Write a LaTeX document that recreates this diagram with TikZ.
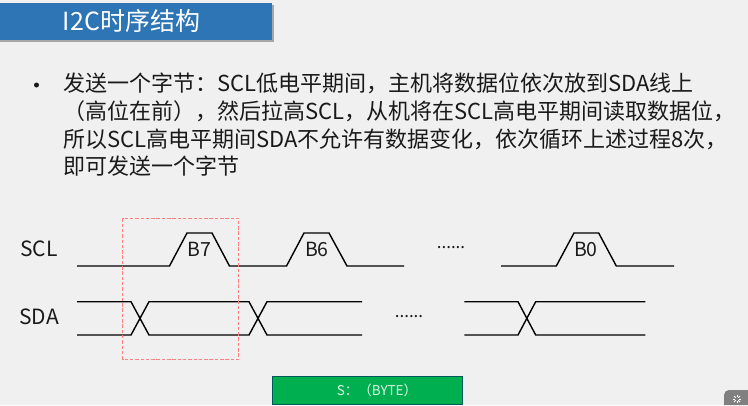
\documentclass[tikz,border=0pt]{standalone}
\usepackage{fontspec}
\setmainfont{Noto Sans CJK SC}
\definecolor{bgc}{HTML}{F0F0F0}
\definecolor{titleblue}{HTML}{2E75B6}
\definecolor{greenbox}{HTML}{00B050}
\definecolor{ink}{HTML}{1A1A1A}
\tikzset{
  wave/.style={line width=1.4pt,black,line join=miter},
  bodyline/.style={anchor=base west,inner sep=0pt,text=ink,font=\fontsize{22}{24}\selectfont},
  siglabel/.style={inner sep=0pt,text=ink,font=\fontsize{21}{24}\selectfont},
  bitlabel/.style={inner sep=0pt,text=ink,font=\fontsize{19.5}{22}\selectfont},
  dotlabel/.style={inner sep=0pt,text=ink,font=\fontsize{17}{20}\selectfont}
}
\begin{document}
\begin{tikzpicture}[x=1pt,y=-1pt]
\useasboundingbox (0,0) rectangle (748,405);
\fill[bgc] (0,0) rectangle (748,405);
% title
\fill[black!35] (0,5) rectangle (273.5,41.5);
\node[fill=titleblue,minimum width=272pt,minimum height=37pt,inner sep=0pt,anchor=north west] (title) at (0,3) {};
\node[inner sep=0pt,text=white,font=\fontsize{25}{27}\selectfont] (titletext) at (131.5,21) {I2C时序结构};
% body
\node[anchor=center,fill=ink,circle,minimum size=5pt,inner sep=0pt] (bullet) at (36.5,85) {};
\node[bodyline] (l1) at (63,91.5) {发送一个字节：SCL低电平期间，主机将数据位依次放到SDA线上};
\node[bodyline] (l2) at (63,119.5) {（高位在前），然后拉高SCL，从机将在SCL高电平期间读取数据位，};
\node[bodyline] (l3) at (63,147) {所以SCL高电平期间SDA不允许有数据变化，依次循环上述过程8次，};
\node[bodyline] (l4) at (63,174.5) {即可发送一个字节};
% labels
\node[siglabel] (scl) at (39,249) {SCL};
\node[siglabel] (sda) at (39,317) {SDA};
\node[bitlabel] (b7) at (199.5,249) {B7};
\node[bitlabel] (b6) at (317,249) {B6};
\node[bitlabel] (b0) at (586,249) {B0};
\node[dotlabel] (d1) at (451,248) {......};
\node[dotlabel] (d2) at (409,317) {......};
% SCL
\draw[wave] (77,266) -- (169.5,266) -- (187,233) -- (212,233) -- (229.5,266) -- (286.5,266) -- (304,233) -- (329,233) -- (347,266) -- (404,266);
\draw[wave] (501,266) -- (556.3,266) -- (574,233) -- (598.7,233) -- (616.3,266) -- (674,266);
% SDA
\draw[wave] (77,301.7) -- (131,301.7) -- (149,335) -- (249,335) -- (267,301.7) -- (362,301.7);
\draw[wave] (77,335) -- (131,335) -- (149,301.7) -- (249,301.7) -- (267,335) -- (362,335);
\draw[wave] (464.3,301.7) -- (518,301.7) -- (535.7,335) -- (645.3,335);
\draw[wave] (464.3,335) -- (518,335) -- (535.7,301.7) -- (645.3,301.7);
% dashed frame
\draw[draw=red!50!white,line width=0.8pt,dash pattern=on 3.5pt off 1.8pt] (122.5,218.3) rectangle (238.7,359.3);
% green box
\node[draw=teal!70!black,line width=0.6pt,fill=greenbox,minimum width=190pt,minimum height=28pt,inner sep=0pt,anchor=north west] (gbox) at (271.7,376.2) {};
\node[inner sep=0pt,text=white!88!greenbox,font=\fontsize{13.5}{15}\selectfont] (gtext) at (377,390) {S：（BYTE）};
% corner button
\fill[black!50] (724,405) -- (724,395) arc[start angle=180,end angle=90,radius=5pt] -- (748,390) -- (748,405) -- cycle;
\foreach \a in {0,45,...,315} \draw[white,line width=0.8pt] (737,399) ++(\a:1.8) -- ++(\a:2.4);
\end{tikzpicture}
\end{document}
